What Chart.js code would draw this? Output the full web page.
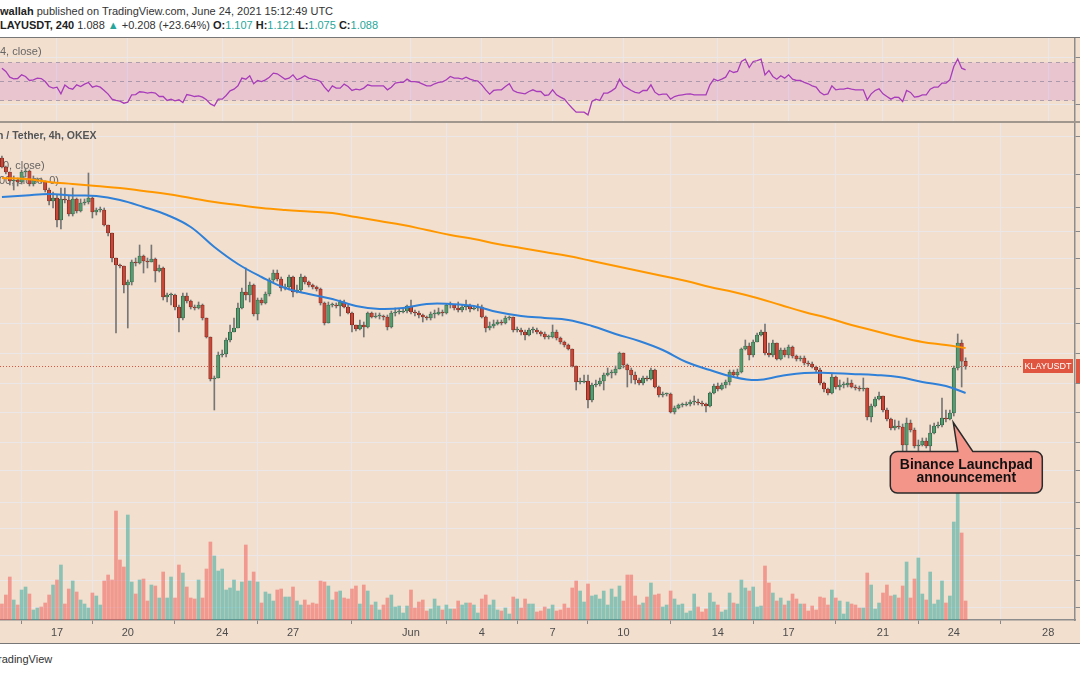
<!DOCTYPE html>
<html lang="en">
<head>
<meta charset="utf-8">
<title>KLAYUSDT 4h</title>
<script src="https://cdn.jsdelivr.net/npm/chart.js@4.4.1/dist/chart.umd.min.js"></script>
<style>
  html, body { margin: 0; padding: 0; background: #fff; overflow: hidden; }
  #wrap { position: relative; width: 1080px; height: 675px; overflow: hidden; background: #fff;
          font-family: "Liberation Sans", Arial, sans-serif; color: #333; }
  canvas { position: absolute; left: 0; background: #f2dfce; }
  #rsi { top: 38px; }
  #price { top: 123px; }
  .hdr { position: absolute; left: 0; font-size: 11px; line-height: 13px; white-space: nowrap; }
  .hdr b { color: #222; }
  .t { color: #26a69a; }
  .rule { position: absolute; left: 0; width: 1080px; }
</style>
</head>
<body>
<div id="wrap">
  <div class="hdr" style="top:5px"><b>wallah</b> published on TradingView.com, June 24, 2021 15:12:49 UTC</div>
  <div class="hdr" style="top:19px"><b>LAYUSDT, 240</b> 1.088 <span class="t">&#9650;</span> +0.208 (+23.64%) <b>O:</b><span class="t">1.107</span> <b>H:</b><span class="t">1.121</span> <b>L:</b><span class="t">1.075</span> <b>C:</b><span class="t">1.088</span></div>
  <div class="rule" style="top:37px;height:1px;background:#777"></div>
  <canvas id="rsi" width="1080" height="83"></canvas>
  <div class="rule" style="top:121px;height:2px;background:#a0978f"></div>
  <canvas id="price" width="1080" height="520"></canvas>
  <div class="rule" style="top:643px;height:1px;background:#777"></div>
  <div class="hdr" style="top:653px;left:-2px">radingView</div>
</div>

<script>
// KLAY / Tether, 4h candles (OKEX), 14 May 16:00 -> 24 Jun 12:00 UTC
// values

const firstOpen = 1.920;

const closes = [
  1.884, 1.864, 1.828, 1.832, 1.824, 1.864, 1.868, 1.816, 1.832, 1.832, 1.828, 1.792,
  1.748, 1.760, 1.672, 1.756, 1.752, 1.696, 1.756, 1.708, 1.740, 1.744, 1.760, 1.704,
  1.712, 1.712, 1.652, 1.620, 1.520, 1.492, 1.488, 1.412, 1.424, 1.504, 1.500, 1.528,
  1.508, 1.504, 1.516, 1.468, 1.480, 1.364, 1.372, 1.372, 1.324, 1.280, 1.368, 1.348,
  1.324, 1.320, 1.332, 1.280, 1.204, 1.036, 1.040, 1.132, 1.136, 1.192, 1.224, 1.240,
  1.320, 1.384, 1.372, 1.412, 1.296, 1.352, 1.340, 1.376, 1.432, 1.460, 1.436, 1.400,
  1.404, 1.444, 1.384, 1.392, 1.444, 1.424, 1.412, 1.404, 1.396, 1.340, 1.260, 1.332,
  1.332, 1.328, 1.344, 1.324, 1.300, 1.252, 1.236, 1.252, 1.244, 1.300, 1.284, 1.288,
  1.288, 1.284, 1.244, 1.300, 1.304, 1.304, 1.308, 1.328, 1.304, 1.300, 1.292, 1.284,
  1.280, 1.296, 1.296, 1.304, 1.300, 1.332, 1.332, 1.320, 1.312, 1.324, 1.328, 1.316,
  1.320, 1.324, 1.284, 1.240, 1.248, 1.256, 1.264, 1.260, 1.280, 1.284, 1.232, 1.232,
  1.224, 1.212, 1.232, 1.232, 1.224, 1.216, 1.204, 1.204, 1.224, 1.200, 1.184, 1.172,
  1.156, 1.088, 1.024, 1.024, 1.028, 0.952, 1.012, 1.016, 1.028, 1.052, 1.060, 1.060,
  1.076, 1.140, 1.092, 1.072, 1.052, 1.032, 1.020, 1.040, 1.036, 1.072, 1.004, 0.972,
  0.976, 0.976, 0.904, 0.920, 0.932, 0.932, 0.936, 0.944, 0.944, 0.940, 0.936, 0.928,
  0.980, 1.008, 0.996, 1.012, 1.024, 1.064, 1.052, 1.064, 1.156, 1.168, 1.132, 1.184,
  1.212, 1.224, 1.140, 1.132, 1.180, 1.116, 1.152, 1.132, 1.164, 1.128, 1.116, 1.120,
  1.100, 1.096, 1.084, 1.072, 1.020, 0.996, 0.980, 1.044, 1.004, 1.012, 1.012, 1.020,
  1.004, 1.000, 0.996, 1.000, 0.884, 0.928, 0.956, 0.968, 0.912, 0.876, 0.840, 0.848,
  0.844, 0.772, 0.860, 0.832, 0.768, 0.772, 0.788, 0.768, 0.820, 0.848, 0.852, 0.880,
  0.876, 0.900, 1.080, 1.180, 1.107, 1.088
];

const highs = [
  1.928, 1.888, 1.864, 1.848, 1.840, 1.872, 1.880, 1.872, 1.848, 1.840, 1.840, 1.828,
  1.800, 1.784, 1.772, 1.800, 1.800, 1.768, 1.800, 1.760, 1.756, 1.756, 1.860, 1.764,
  1.720, 1.724, 1.720, 1.652, 1.620, 1.520, 1.496, 1.488, 1.432, 1.512, 1.520, 1.572,
  1.532, 1.520, 1.572, 1.520, 1.492, 1.484, 1.380, 1.380, 1.376, 1.332, 1.380, 1.380,
  1.352, 1.332, 1.344, 1.336, 1.276, 1.204, 1.048, 1.144, 1.152, 1.200, 1.252, 1.280,
  1.340, 1.400, 1.480, 1.424, 1.416, 1.360, 1.360, 1.384, 1.440, 1.472, 1.472, 1.444,
  1.416, 1.452, 1.448, 1.412, 1.456, 1.448, 1.428, 1.416, 1.408, 1.400, 1.344, 1.344,
  1.340, 1.340, 1.352, 1.352, 1.332, 1.304, 1.248, 1.272, 1.264, 1.304, 1.304, 1.300,
  1.300, 1.292, 1.292, 1.308, 1.320, 1.316, 1.316, 1.332, 1.352, 1.312, 1.308, 1.296,
  1.288, 1.304, 1.312, 1.320, 1.312, 1.336, 1.344, 1.332, 1.344, 1.332, 1.352, 1.336,
  1.328, 1.336, 1.332, 1.288, 1.264, 1.272, 1.272, 1.272, 1.288, 1.288, 1.284, 1.244,
  1.240, 1.232, 1.240, 1.244, 1.240, 1.228, 1.224, 1.212, 1.252, 1.232, 1.204, 1.188,
  1.176, 1.156, 1.088, 1.040, 1.052, 1.052, 1.020, 1.032, 1.040, 1.060, 1.080, 1.072,
  1.088, 1.144, 1.140, 1.096, 1.080, 1.064, 1.040, 1.048, 1.048, 1.080, 1.076, 1.008,
  0.984, 0.980, 0.980, 0.928, 0.936, 0.940, 0.944, 0.952, 0.968, 0.956, 0.948, 0.940,
  0.984, 1.016, 1.020, 1.020, 1.032, 1.072, 1.072, 1.076, 1.160, 1.192, 1.180, 1.192,
  1.220, 1.232, 1.256, 1.180, 1.192, 1.176, 1.160, 1.160, 1.172, 1.168, 1.132, 1.128,
  1.128, 1.108, 1.104, 1.088, 1.080, 1.024, 1.000, 1.056, 1.048, 1.032, 1.024, 1.040,
  1.032, 1.012, 1.008, 1.040, 1.000, 0.936, 0.964, 0.984, 0.968, 0.920, 0.880, 0.872,
  0.868, 0.856, 0.880, 0.872, 0.840, 0.792, 0.800, 0.800, 0.852, 0.860, 0.864, 0.960,
  0.912, 0.912, 1.088, 1.216, 1.192, 1.121
];

const lows = [
  1.880, 1.856, 1.812, 1.792, 1.808, 1.816, 1.844, 1.808, 1.808, 1.824, 1.820, 1.784,
  1.732, 1.720, 1.644, 1.636, 1.740, 1.688, 1.688, 1.700, 1.704, 1.732, 1.736, 1.680,
  1.692, 1.704, 1.648, 1.608, 1.504, 1.220, 1.480, 1.380, 1.240, 1.412, 1.488, 1.496,
  1.460, 1.480, 1.504, 1.424, 1.464, 1.352, 1.344, 1.332, 1.312, 1.224, 1.272, 1.340,
  1.316, 1.312, 1.316, 1.272, 1.200, 1.028, 0.912, 1.040, 1.124, 1.124, 1.184, 1.224,
  1.252, 1.316, 1.352, 1.344, 1.288, 1.272, 1.332, 1.336, 1.368, 1.424, 1.428, 1.388,
  1.392, 1.392, 1.364, 1.380, 1.384, 1.416, 1.404, 1.396, 1.388, 1.332, 1.252, 1.260,
  1.324, 1.320, 1.288, 1.320, 1.296, 1.224, 1.228, 1.232, 1.204, 1.240, 1.280, 1.280,
  1.276, 1.272, 1.232, 1.240, 1.288, 1.296, 1.300, 1.300, 1.296, 1.288, 1.280, 1.264,
  1.272, 1.272, 1.280, 1.292, 1.288, 1.296, 1.320, 1.312, 1.304, 1.304, 1.312, 1.304,
  1.312, 1.308, 1.280, 1.224, 1.232, 1.240, 1.252, 1.252, 1.256, 1.272, 1.224, 1.224,
  1.212, 1.192, 1.208, 1.220, 1.216, 1.208, 1.196, 1.196, 1.200, 1.192, 1.176, 1.164,
  1.152, 1.084, 0.992, 1.016, 1.020, 0.920, 0.944, 1.004, 1.008, 0.992, 1.048, 1.040,
  1.052, 1.076, 1.080, 1.004, 1.020, 1.016, 1.012, 1.012, 1.028, 1.032, 1.000, 0.964,
  0.964, 0.968, 0.900, 0.896, 0.916, 0.924, 0.928, 0.928, 0.932, 0.932, 0.928, 0.904,
  0.924, 0.976, 0.988, 0.992, 1.000, 1.012, 1.044, 1.044, 1.060, 1.152, 1.112, 1.124,
  1.184, 1.208, 1.132, 1.124, 1.124, 1.112, 1.112, 1.124, 1.120, 1.120, 1.108, 1.108,
  1.092, 1.088, 1.080, 1.064, 1.012, 0.984, 0.972, 0.976, 0.996, 0.992, 1.000, 1.004,
  1.000, 0.992, 0.988, 0.988, 0.872, 0.864, 0.924, 0.952, 0.904, 0.868, 0.832, 0.832,
  0.836, 0.732, 0.732, 0.824, 0.760, 0.700, 0.768, 0.760, 0.744, 0.816, 0.840, 0.844,
  0.864, 0.872, 0.888, 1.072, 1.004, 1.075
];

// volume, thousand KLAY
const volumes = [
  160, 250, 430, 200, 150, 300, 330, 260, 100, 120, 130, 170,
  250, 350, 400, 550, 160, 310, 390, 280, 200, 160, 120, 270,
  240, 150, 390, 450, 400, 1090, 600, 530, 1050, 380, 260, 400,
  410, 190, 350, 340, 220, 480, 220, 430, 220, 550, 470, 330,
  220, 210, 400, 220, 510, 780, 640, 490, 510, 300, 320, 400,
  290, 380, 750, 390, 480, 380, 170, 280, 260, 190, 300, 310,
  230, 230, 330, 190, 150, 200, 150, 170, 160, 390, 380, 340,
  200, 280, 290, 220, 210, 310, 340, 160, 350, 290, 150, 180,
  100, 150, 220, 250, 130, 140, 70, 140, 300, 120, 180, 200,
  90, 110, 210, 140, 100, 150, 110, 110, 190, 150, 170, 170,
  150, 70, 210, 250, 150, 200, 100, 90, 120, 60, 230, 210,
  120, 210, 160, 160, 80, 90, 130, 110, 150, 90, 100, 160,
  120, 320, 390, 290, 180, 360, 240, 250, 210, 290, 150, 310,
  230, 340, 190, 450, 450, 240, 150, 170, 230, 370, 250, 260,
  130, 150, 290, 210, 150, 160, 70, 90, 260, 130, 80, 110,
  270, 180, 150, 80, 100, 270, 170, 160, 400, 320, 290, 330,
  130, 140, 540, 370, 270, 190, 220, 150, 190, 260, 210, 160,
  160, 90, 140, 100, 230, 220, 150, 300, 220, 190, 60, 180,
  160, 150, 120, 120, 470, 350, 110, 170, 270, 350, 240, 250,
  220, 340, 580, 220, 410, 620, 260, 200, 480, 160, 200, 390,
  170, 240, 980, 1350, 870, 190
];

// RSI (14, close), one value per candle
const rsi = [
  63.8, 60.3, 54.2, 52.5, 52.8, 56.7, 55.0, 50.7, 51.4, 53.2, 52.8, 49.6,
  44.3, 42.6, 43.6, 36.5, 45.8, 42.6, 41.5, 46.1, 44.3, 46.8, 48.6, 43.6,
  45.0, 43.6, 40.1, 36.2, 30.9, 29.5, 28.8, 26.6, 27.7, 35.5, 35.8, 38.7,
  38.3, 37.3, 38.0, 37.3, 33.7, 33.7, 29.5, 30.9, 29.1, 30.2, 27.3, 35.8,
  34.8, 33.7, 34.4, 33.0, 30.2, 25.9, 23.8, 30.9, 30.9, 34.8, 39.7, 41.5,
  45.0, 53.2, 52.1, 55.7, 47.2, 50.7, 49.6, 51.4, 54.2, 58.5, 57.8, 55.0,
  52.1, 53.2, 56.7, 51.4, 53.2, 55.7, 53.2, 52.1, 51.4, 49.6, 43.6, 39.0,
  45.0, 42.6, 42.6, 46.8, 44.3, 40.1, 41.5, 40.8, 42.6, 46.1, 45.0, 45.0,
  45.0, 45.0, 40.8, 43.6, 47.9, 48.6, 48.6, 52.1, 49.6, 49.6, 48.6, 46.8,
  45.0, 45.0, 47.2, 48.6, 49.3, 51.4, 55.0, 53.2, 53.2, 52.1, 54.2, 52.1,
  50.7, 50.0, 46.1, 40.8, 36.2, 40.1, 40.8, 40.8, 44.3, 47.2, 40.1, 38.0,
  37.3, 36.5, 39.0, 40.8, 39.0,
  39.0, 34.8, 35.5, 40.8, 35.5, 33.0, 30.9, 25.9, 21.3, 17.1,
  17.1, 17.1, 14.2, 28.4, 30.9, 29.5, 37.3, 37.3, 39.7, 42.6,
  52.1, 45.0, 42.6, 40.1, 38.0, 37.3, 40.1, 40.1, 46.1, 38.3,
  35.5, 36.2, 36.2, 30.9, 33.7, 34.8, 35.5, 36.2, 36.5, 35.5,
  35.5, 35.5, 35.5, 46.1, 52.1, 50.4, 52.1, 54.2, 61.3, 59.2,
  60.3, 70.9, 73.4, 64.5, 70.9, 71.9, 73.4, 56.7, 61.3, 55.0,
  52.1, 55.7, 53.2, 56.7, 52.1, 50.7, 50.7, 48.6, 47.2, 45.0,
  43.6, 38.3, 35.5, 36.5, 45.0, 40.8, 41.5, 41.5, 42.6, 41.5,
  40.8, 40.8, 40.8, 30.2, 36.5, 40.1, 41.9, 36.5, 33.7, 30.9,
  33.0, 32.7, 28.4, 40.1, 38.0, 33.0, 33.7, 35.5, 35.5, 41.5,
  43.6, 43.6, 47.9, 47.9, 51.4, 65.6, 73.4, 63.8, 62.0
];

// moving averages, read once a day (every 6th candle) plus the last candle
const ma50 = [
  1.764, 1.770, 1.776, 1.770, 1.768, 1.752, 1.724, 1.692, 1.644, 1.564, 1.496, 1.444,
  1.400, 1.376, 1.356, 1.328, 1.316, 1.320, 1.336, 1.336, 1.328, 1.304, 1.288, 1.280,
  1.272, 1.248, 1.216, 1.188, 1.152, 1.104, 1.072, 1.044, 1.032, 1.048, 1.060, 1.060,
  1.056, 1.052, 1.044, 1.024, 1.008, 0.980
];
const ma200 = [
  1.840, 1.836, 1.824, 1.816, 1.808, 1.800, 1.788, 1.776, 1.760, 1.744, 1.732, 1.720,
  1.712, 1.706, 1.700, 1.684, 1.668, 1.652, 1.632, 1.612, 1.596, 1.576, 1.560, 1.544,
  1.528, 1.508, 1.488, 1.468, 1.448, 1.428, 1.404, 1.384, 1.360, 1.332, 1.304, 1.280,
  1.252, 1.228, 1.204, 1.184, 1.172, 1.160
];

const dayTicks = [17, 20, 24, 27, 32, 35, 38, 41, 45, 48, 52, 55, 59];   // days counted from 1 May
const dayLabels = ['17', '20', '24', '27', 'Jun', '4', '7', '10', '14', '17', '21', '24', '28'];
const priceTicks = [2.008, 1.856, 1.724, 1.628, 1.520, 1.400, 1.260, 1.140, 1.020, 0.900,
                    0.784, 0.672, 0.544, 0.440, 0.332, 0.232, 0.124];
const rsiTicks = [25, 75];
const rsiLevels = [30, 50, 70];
const lastPrice = 1.088;
const announceCandle = 242;

// ---- layout ----
const t0 = 14 + 16 / 24;      // first candle: 14 May 16:00
const dt = 4 / 24;
const xMin = 14.585, xMax = 60.136;

const GRID = 'rgba(232,232,240,0.75)';
const AXIS = '#8d8d8d';
const UP = '#559c70', UP_EDGE = '#28523a';
const DN = '#cb4637', DN_EDGE = '#65241c';
const VOL_UP = 'rgba(38,166,154,0.5)', VOL_DN = 'rgba(239,83,80,0.5)';

Chart.defaults.font.family = '"Liberation Sans", Arial, sans-serif';

const xs = closes.map((c, i) => t0 + i * dt);
const opens = closes.map((c, i) => i ? closes[i - 1] : firstOpen);
const up = closes.map((c, i) => c >= opens[i]);
const maIdx = ma50.map((v, k) => Math.min(k * 6, closes.length - 1));

function dayAxis(extra) {
  return Object.assign({
    type: 'linear', min: xMin, max: xMax, offset: false,
    afterBuildTicks: s => { s.ticks = dayTicks.map(v => ({ value: v })); }
  }, extra);
}

function callout(ctx, l, t, w, h, r, tipX, tipY, b1, b2) {
  ctx.beginPath();
  ctx.moveTo(l + r, t);
  ctx.lineTo(b1, t);
  ctx.lineTo(tipX, tipY);
  ctx.lineTo(b2, t);
  ctx.lineTo(l + w - r, t);
  ctx.arcTo(l + w, t, l + w, t + r, r);
  ctx.lineTo(l + w, t + h - r);
  ctx.arcTo(l + w, t + h, l + w - r, t + h, r);
  ctx.lineTo(l + r, t + h);
  ctx.arcTo(l, t + h, l, t + h - r, r);
  ctx.lineTo(l, t + r);
  ctx.arcTo(l, t, l + r, t, r);
  ctx.closePath();
}

// ---- RSI panel ----
const rsiDecor = {
  id: 'rsiDecor',
  beforeDatasetsDraw(chart) {
    const { ctx, chartArea: a, scales: { y } } = chart;
    const py = rsiLevels.map(v => Math.round(y.getPixelForValue(v)) + 0.5);
    ctx.save();
    ctx.fillStyle = 'rgba(190,80,215,0.17)';
    ctx.fillRect(a.left, py[2], a.right - a.left, py[0] - py[2]);
    ctx.strokeStyle = 'rgba(120,115,140,0.55)';
    ctx.lineWidth = 1;
    ctx.setLineDash([4, 4]);
    py.forEach(v => { ctx.beginPath(); ctx.moveTo(a.left, v); ctx.lineTo(a.right, v); ctx.stroke(); });
    ctx.setLineDash([]);
    ctx.font = '11px "Liberation Sans", Arial, sans-serif';
    ctx.fillStyle = '#666';
    ctx.textBaseline = 'middle';
    ctx.fillText('4, close)', 0, 14);
    ctx.restore();
  }
};

new Chart(document.getElementById('rsi'), {
  type: 'line',
  data: {
    datasets: [{
      data: rsi.map((v, i) => ({ x: xs[i], y: v })),
      borderColor: '#a83cba', borderWidth: 1.3, pointRadius: 0, tension: 0
    }]
  },
  options: {
    responsive: false, animation: false, events: [],
    layout: { padding: 0 },
    plugins: { legend: { display: false }, tooltip: { enabled: false } },
    scales: {
      x: dayAxis({
        ticks: { display: false },
        grid: { color: GRID, drawTicks: false },
        border: { display: false },
        afterFit: s => { s.height = 0; }
      }),
      y: {
        position: 'right', min: 7.7, max: 95.8,
        afterBuildTicks: s => { s.ticks = rsiTicks.map(v => ({ value: v })); },
        ticks: { display: false },
        grid: { color: GRID, tickColor: '#888', tickLength: 5 },
        border: { color: AXIS, width: 1.5 },
        afterFit: s => { s.width = 5; }
      }
    }
  },
  plugins: [rsiDecor]
});

// ---- price panel ----
const priceDecor = {
  id: 'priceDecor',
  beforeDatasetsDraw(chart) {
    const { ctx, chartArea: a, scales: { y } } = chart;
    ctx.save();
    ctx.font = '11px "Liberation Sans", Arial, sans-serif';
    ctx.fillStyle = 'rgba(85,85,85,0.9)';
    ctx.textBaseline = 'middle';
    ctx.fillText('0, close)', 3, 43);
    ctx.fillText('00, close, 0)', -1, 57.5);
    const py = Math.round(y.getPixelForValue(lastPrice)) + 0.5;
    ctx.strokeStyle = '#e0533f';
    ctx.lineWidth = 1;
    ctx.setLineDash([1, 2]);
    ctx.beginPath(); ctx.moveTo(a.left, py); ctx.lineTo(a.right - 52, py); ctx.stroke();
    ctx.restore();
  },
  afterDatasetsDraw(chart) {
    const { ctx, chartArea: a, scales: { x, y } } = chart;
    ctx.save();
    // last price tag
    const py = Math.round(y.getPixelForValue(lastPrice));
    ctx.fillStyle = '#e0553f';
    ctx.fillRect(a.right - 52, py - 7, 50, 14);
    ctx.fillRect(a.right + 1, py - 7, 6, 24);
    ctx.fillStyle = '#fff';
    ctx.font = '9px "Liberation Sans", Arial, sans-serif';
    ctx.textAlign = 'center';
    ctx.textBaseline = 'middle';
    ctx.fillText('KLAYUSDT', a.right - 27, py + 0.5);

    // announcement callout
    const tipX = x.getPixelForValue(xs[announceCandle]) - 0.5;
    const tipY = y.getPixelForValue(lows[announceCandle]) + 6.5;
    const l = tipX - 63, t = tipY + 29, w = 152, h = 41.5;
    callout(ctx, l, t, w, h, 7, tipX, tipY, tipX + 4.5, tipX + 19.5);
    ctx.fillStyle = '#f4958a';
    ctx.fill();
    ctx.lineWidth = 1.5;
    ctx.strokeStyle = '#2a2a2a';
    ctx.stroke();
    ctx.fillStyle = '#111';
    ctx.font = 'bold 14px "Liberation Sans", Arial, sans-serif';
    ctx.fillText('Binance Launchpad', l + w / 2, t + 14);
    ctx.fillText('announcement', l + w / 2, t + 26.5);

    // panel title
    ctx.textAlign = 'left';
    ctx.fillStyle = '#555';
    ctx.font = 'bold 10.5px "Liberation Sans", Arial, sans-serif';
    ctx.fillText('n / Tether, 4h, OKEX', -3, 13);
    ctx.restore();
  }
};

new Chart(document.getElementById('price'), {
  type: 'bar',
  data: {
    datasets: [
      {
        label: 'Volume', yAxisID: 'yv', order: 10, grouped: false,
        data: volumes.map((v, i) => ({ x: xs[i], y: v })),
        backgroundColor: up.map(u => u ? VOL_UP : VOL_DN),
        borderWidth: 0, barThickness: 3
      },
      {
        label: 'Wicks', yAxisID: 'y', order: 5, grouped: false,
        data: xs.map((x, i) => ({ x, y: [Math.min(lows[i], opens[i], closes[i]), Math.max(highs[i], opens[i], closes[i])] })),
        backgroundColor: '#767676', borderWidth: 0, barThickness: 1
      },
      {
        label: 'Candles', yAxisID: 'y', order: 4, grouped: false,
        data: xs.map((x, i) => ({ x, y: [opens[i], closes[i]] })),
        backgroundColor: up.map(u => u ? UP : DN),
        borderColor: up.map(u => u ? UP_EDGE : DN_EDGE),
        borderWidth: 0.7, borderSkipped: false, barThickness: 3.4, minBarLength: 1
      },
      {
        type: 'line', label: 'MA 200', yAxisID: 'y', order: 2,
        data: maIdx.map((k, j) => ({ x: xs[k], y: ma200[j] })),
        borderColor: '#ff9800', borderWidth: 2, pointRadius: 0, tension: 0.4
      },
      {
        type: 'line', label: 'MA 50', yAxisID: 'y', order: 1,
        data: maIdx.map((k, j) => ({ x: xs[k], y: ma50[j] })),
        borderColor: '#2f80d8', borderWidth: 2, pointRadius: 0, tension: 0.4
      }
    ]
  },
  options: {
    responsive: false, animation: false, events: [],
    layout: { padding: 0 },
    plugins: { legend: { display: false }, tooltip: { enabled: false } },
    scales: {
      x: dayAxis({
        ticks: {
          autoSkip: false, maxRotation: 0, padding: 2, color: '#4d4d4d',
          font: { size: 11 },
          callback: v => dayLabels[dayTicks.indexOf(v)] || ''
        },
        grid: { color: GRID, tickColor: '#888', tickLength: 4 },
        border: { color: AXIS, width: 1.5 },
        afterFit: s => { s.height = 23; }
      }),
      y: {
        position: 'right', min: 0.072, max: 2.06,
        afterBuildTicks: s => { s.ticks = priceTicks.map(v => ({ value: v })); },
        ticks: { display: false },
        grid: { color: GRID, tickColor: '#888', tickLength: 5 },
        border: { color: AXIS, width: 1.5 },
        afterFit: s => { s.width = 5; }
      },
      yv: { display: false, min: 0, max: 4970 }
    }
  },
  plugins: [priceDecor]
});
</script>
</body>
</html>
